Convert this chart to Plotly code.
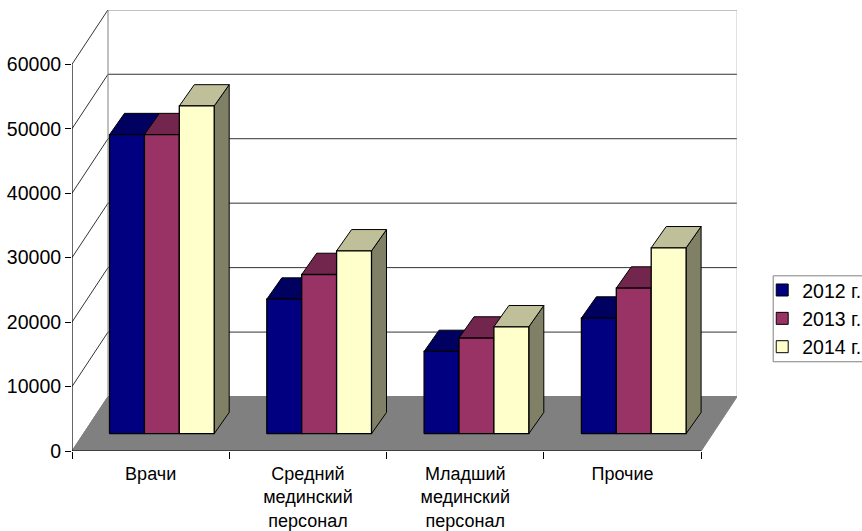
import plotly.graph_objects as go

categories = ["Врачи", "Средний<br>мединский<br>персонал", "Младший<br>мединский<br>персонал", "Прочие"]
series_names = ["2012 г.", "2013 г.", "2014 г."]
values_2012 = [46400, 20880, 12760, 17940]
values_2013 = [46400, 24700, 14840, 22590]
values_2014 = [50850, 28370, 16590, 28840]
front_colors = ["#000080", "#993366", "#FFFFCC"]
top_colors = ["#000060", "#73264D", "#BFBF99"]
side_colors = ["#000050", "#662244", "#808066"]
y_ticks = [0, 10000, 20000, 30000, 40000, 50000, 60000]

W, H = 862, 531
L, R, T, B = 72.3, 737.3, 10.0, 451.3
CAT_PX = 157.3
PX_PER_UNIT = 6.45 / 1000

def xu(px):
    return px / CAT_PX

def yu(px):
    return px / PX_PER_UNIT

X_MAX = xu(R - L)
Y_MAX = yu(B - T)
WALL_DX, WALL_DY = xu(36), yu(54.5)
BAR_DX, BAR_DY = xu(15), yu(21.3)
BAR_BASE = yu(17.3)
BAR_W = xu(34.9)
BAR_START = xu(37.5)

fig = go.Figure()


def poly(xs, ys, fill=None, line="#000000", width=1, close=True):
    if close:
        xs, ys = list(xs) + [xs[0]], list(ys) + [ys[0]]
    fig.add_trace(go.Scatter(
        x=xs, y=ys, mode="lines", showlegend=False, hoverinfo="skip",
        fill="toself" if fill else None, fillcolor=fill,
        line=dict(color=line, width=width),
    ))


CAT_COUNT = len(categories)
FRONT_END = CAT_COUNT

# floor
poly([0, WALL_DX, FRONT_END + WALL_DX, FRONT_END], [0, WALL_DY, WALL_DY, 0], fill="#808080", line="#808080")
# wall grid
for v in y_ticks:
    poly([0, WALL_DX, FRONT_END + WALL_DX], [v, v + WALL_DY, v + WALL_DY], line="#333333" if v else "#808080", close=False)
poly([WALL_DX, WALL_DX], [WALL_DY, y_ticks[-1] + WALL_DY], line="#808080", close=False)
poly([FRONT_END + WALL_DX, FRONT_END + WALL_DX], [WALL_DY, y_ticks[-1] + WALL_DY], line="#A0A0A0", close=False)
poly([0, FRONT_END], [0, 0], close=False, width=1.2)
poly([0, 0], [0, y_ticks[-1]], close=False, width=1.2)

# bars
all_values = [values_2012, values_2013, values_2014]
for c in range(CAT_COUNT):
    for s, vals in enumerate(all_values):
        x0 = c + BAR_START + s * BAR_W
        x1 = x0 + BAR_W
        y0 = BAR_BASE
        y1 = BAR_BASE + vals[c]
        poly([x1, x1 + BAR_DX, x1 + BAR_DX, x1], [y0, y0 + BAR_DY, y1 + BAR_DY, y1], fill=side_colors[s])
        poly([x0, x0 + BAR_DX, x1 + BAR_DX, x1], [y1, y1 + BAR_DY, y1 + BAR_DY, y1], fill=top_colors[s])
        poly([x0, x1, x1, x0], [y0, y0, y1, y1], fill=front_colors[s], width=1.3)

# legend entries
for name, color in zip(series_names, front_colors):
    fig.add_trace(go.Scatter(
        x=[None], y=[None], mode="markers", name=name,
        marker=dict(symbol="square", size=12, color=color, line=dict(color="#000000", width=1)),
    ))

FAMILY = "Liberation Sans, Arial, sans-serif"
fig.update_layout(
    width=W, height=H, autosize=False,
    paper_bgcolor="#FFFFFF", plot_bgcolor="#FFFFFF",
    margin=dict(l=L, r=W - R, t=T, b=H - B, autoexpand=False),
    font=dict(family=FAMILY, size=18, color="#000000"),
    xaxis=dict(
        range=[0, X_MAX], showgrid=False, zeroline=False, showline=False, automargin=False,
        tickmode="array", tickvals=[i + 0.5 for i in range(CAT_COUNT)], ticktext=categories,
        ticks="", ticklabelstandoff=10, tickfont=dict(family=FAMILY, size=18, color="#000000"),
        minor=dict(tickmode="array", tickvals=list(range(CAT_COUNT + 1)), ticks="outside", ticklen=7, tickcolor="#000000", showgrid=False),
    ),
    yaxis=dict(
        range=[0, Y_MAX], showgrid=False, zeroline=False, showline=False, automargin=False,
        tickmode="array", tickvals=y_ticks, ticktext=[str(v) for v in y_ticks],
        ticks="outside", ticklen=6, tickcolor="#000000",
        tickfont=dict(family=FAMILY, size=19.5, color="#000000"),
    ),
    shapes=[dict(
        type="rect", xref="paper", yref="paper", layer="above",
        x0=(773.5 - L) / (R - L), x1=(880 - L) / (R - L),
        y0=1 - (362 - T) / (B - T), y1=1 - (276 - T) / (B - T),
        line=dict(color="#808080", width=1), fillcolor="#FFFFFF",
    )],
    showlegend=True,
    legend=dict(
        x=(775.5 - L) / (R - L), xanchor="left", y=1 - (271 - T) / (B - T), yanchor="top",
        bgcolor="rgba(255,255,255,0)", borderwidth=0,
        indentation=-13, entrywidth=80, entrywidthmode="pixels",
        font=dict(family=FAMILY, size=19.5, color="#000000"),
    ),
)

fig.write_html("out.html", post_script="document.body.style.margin='0';", config={"displayModeBar": False})
